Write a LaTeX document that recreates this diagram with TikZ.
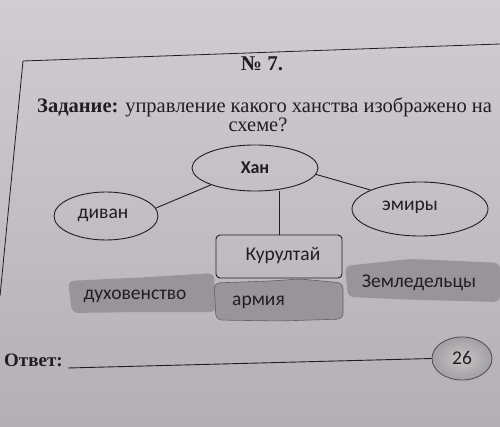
\documentclass[tikz,border=0pt]{standalone}
\usepackage{fontspec}
\setmainfont{Liberation Serif}
\newfontfamily\lab{Carlito}
\usetikzlibrary{shapes.geometric}
\definecolor{pagetop}{RGB}{208,205,208}
\definecolor{pagebot}{RGB}{180,175,178}
\definecolor{brushgray}{RGB}{152,148,151}
\definecolor{inkc}{RGB}{32,30,33}
\begin{document}
\begin{tikzpicture}[x=1pt,y=-1pt,
  lbl/.style={font=\lab\fontsize{19.5}{22}\selectfont, text=inkc, inner sep=0pt},
  oval/.style={draw=inkc, line width=0.9pt, ellipse, inner sep=0pt},
  link/.style={draw=inkc, line width=0.9pt},
  brush/.style={fill=brushgray, draw=none, rounded corners=6pt},
  title/.style={font=\fontsize{20.5}{24}\selectfont, text=inkc, inner sep=0pt}]
\useasboundingbox (0,0) rectangle (500,427);
\shade[top color=pagetop, bottom color=pagebot] (0,0) rectangle (500,427);
% frame
\coordinate (fc) at (23,61);
\coordinate (fr) at (500,44);
\coordinate (fb) at (0,296);
\draw[link, line width=0.8pt] (fr) -- (fc) -- (fb);
% header
\node[title, font=\bfseries\fontsize{21}{24}\selectfont] (num) at (262,64) {№ 7.};
\node[title, anchor=west] (task) at (37,107) {\textbf{Задание:} управление какого ханства изображено на};
\node[title] (task2) at (258,125) {схеме?};
% ellipses
\node[oval, minimum width=126pt, minimum height=46pt] (khan) at (255,168) {};
\node[lbl, font=\lab\bfseries\fontsize{18}{22}\selectfont] (khant) at (255,168) {Хан};
\node[oval, minimum width=104pt, minimum height=48pt] (divan) at (106,216) {};
\node[lbl] (divant) at (103,215) {диван};
\node[oval, minimum width=136pt, minimum height=54pt] (emir) at (420,209) {};
\node[lbl] (emirt) at (410,207) {эмиры};
% kurultai
\node[draw=inkc, line width=0.9pt, rounded corners=4pt, minimum width=126pt, minimum height=43pt, inner sep=0pt] (kur) at (279,256.5) {};
\node[lbl] (kurt) at (283,255) {Курултай};
\draw[link] (khan.201) -- (divan.9);
\draw[link] (khan.354) -- (emir.159);
\draw[link] (khan.south -| kur.north) -- (kur.north);
% brush strokes
\path[brush] (68,281) -- (150,277) -- (214,273) -- (216,312) -- (140,312) -- (72,313) -- cycle;
\node[lbl] (duh) at (135,296) {духовенство};
\path[brush, draw=inkc!70, line width=0.6pt] (214,283) -- (270,281) -- (300,279) -- (343,283) -- (343,319) -- (280,321) -- (216,320) -- cycle;
\node[lbl, anchor=west] (arm) at (232,302) {армия};
\path[brush] (345,266) -- (410,259) -- (460,261) -- (500,263) -- (500,302) -- (420,300) -- (348,297) -- cycle;
\node[lbl] (zem) at (419,283) {Земледельцы};
% answer
\node[title, font=\bfseries\fontsize{19}{22}\selectfont, anchor=west] (otv) at (4,360) {Ответ:};
\node[draw=inkc!80, line width=0.8pt, ellipse, minimum width=60pt, minimum height=43pt, inner sep=0pt,
      inner color=gray!45, outer color=brushgray!90] (score) at (462,358.5) {};
\node[lbl] (scoret) at (462,358) {26};
\coordinate (ansl) at (68,368);
\draw[link] (ansl) -- (score.west);
\end{tikzpicture}
\end{document}
